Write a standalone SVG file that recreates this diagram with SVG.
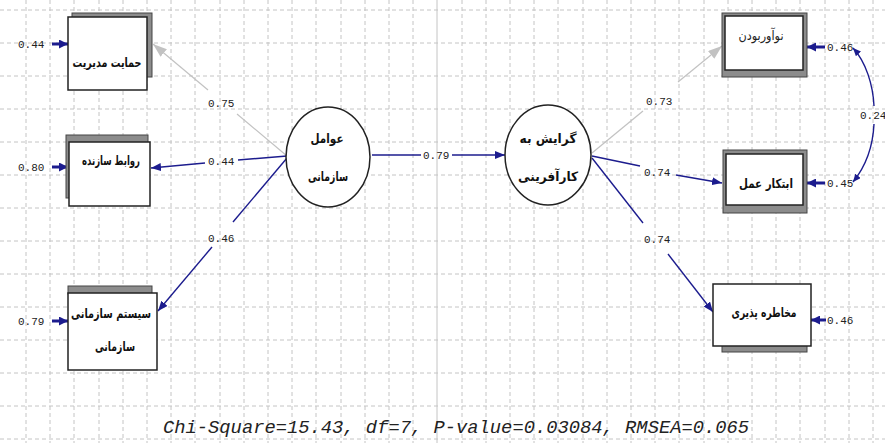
<svg xmlns="http://www.w3.org/2000/svg" width="885" height="443" viewBox="0 0 885 443">
<style>
.grid{stroke:#c4c4c4;stroke-width:1;stroke-dasharray:4 3;fill:none}
.gsolid{stroke:#c4c4c4;stroke-width:1;fill:none}
.blue{stroke:#1c1c8e;stroke-width:1.4;fill:none}
.gray{stroke:#c2c2c2;stroke-width:1.2;fill:none}
.err{stroke:#1c1c8e;stroke-width:3;fill:none}
.box{fill:#fff;stroke:#222;stroke-width:1.5}
.shadow{fill:#8c8c8c;stroke:#444;stroke-width:1}
.ell{fill:#fff;stroke:#222;stroke-width:1.5}
.fa{font-family:"DejaVu Sans",sans-serif;font-size:13px;font-weight:bold;fill:#111;text-anchor:middle}
.fr{font-family:"DejaVu Sans",sans-serif;font-size:13px;fill:#222;text-anchor:middle}
.num{font-family:"Liberation Mono",monospace;font-size:11px;fill:#222}
.stat{font-family:"Liberation Mono",monospace;font-size:18.8px;font-style:italic;fill:#222}
</style>
<defs>
<marker id="ab" markerWidth="10" markerHeight="8" refX="10" refY="4" orient="auto" markerUnits="userSpaceOnUse"><path d="M0,0 L10,4 L0,8 Z" fill="#1c1c8e"/></marker>
<marker id="ag" markerWidth="14" markerHeight="10" refX="14" refY="5" orient="auto" markerUnits="userSpaceOnUse"><path d="M0,0 L14,5 L0,10 Z" fill="#c2c2c2"/></marker>
<marker id="ae" markerWidth="9" markerHeight="9" refX="9" refY="4.5" orient="auto" markerUnits="userSpaceOnUse"><path d="M0,0 L9,4.5 L0,9 Z" fill="#1c1c8e"/></marker>
<marker id="as" markerWidth="8" markerHeight="7" refX="8" refY="3.5" orient="auto" markerUnits="userSpaceOnUse"><path d="M0,0 L8,3.5 L0,7 Z" fill="#1c1c8e"/></marker>
<marker id="ass" markerWidth="8" markerHeight="7" refX="0" refY="3.5" orient="auto" markerUnits="userSpaceOnUse"><path d="M8,0 L0,3.5 L8,7 Z" fill="#1c1c8e"/></marker>
</defs>
<rect width="885" height="443" fill="#fff"/>
<g id="grid">
<path class="grid" d="M26,0V443M50,0V443M74,0V443M99,0V443M123,0V443M147,0V443M171,0V443M195,0V443M220,0V443M244,0V443M268,0V443M292,0V443M316,0V443M341,0V443M365,0V443M389,0V443M413,0V443M462,0V443M486,0V443M510,0V443M534,0V443M558,0V443M583,0V443M607,0V443M631,0V443M655,0V443M679,0V443M704,0V443M728,0V443M752,0V443M776,0V443M800,0V443M825,0V443M849,0V443M873,0V443"/>
<path class="grid" d="M0,10H885M0,43H885M0,76H885M0,109H885M0,142H885M0,175H885M0,208H885M0,241H885M0,274H885M0,307H885M0,340H885M0,373H885M0,406H885M0,439H885"/>
<path class="gsolid" d="M437,0V443"/>
</g>
<g id="connectors">
<path class="gray" d="M287,156 L237,114"/>
<path class="gray" d="M208,90 L153,44" marker-end="url(#ag)"/>
<path class="blue" d="M287,156 L238,160"/>
<path class="blue" d="M205,163 L151,168" marker-end="url(#ab)"/>
<path class="blue" d="M287,158 L233,222"/>
<path class="blue" d="M212,247 L158,311" marker-end="url(#ab)"/>
<path class="blue" d="M372,155 L421,155"/>
<path class="blue" d="M452,155 L505,155" marker-end="url(#ab)"/>
<path class="gray" d="M592,153 L643,111"/>
<path class="gray" d="M678,82 L722,46" marker-end="url(#ag)"/>
<path class="blue" d="M592,156 L640,166"/>
<path class="blue" d="M676,175 L722,183" marker-end="url(#ab)"/>
<path class="blue" d="M592,158 L643,223"/>
<path class="blue" d="M668,254 L713,312" marker-end="url(#ab)"/>
<path class="err" d="M52,44 H68" marker-end="url(#ae)"/>
<path class="err" d="M52,167 H68" marker-end="url(#ae)"/>
<path class="err" d="M52,321 H68" marker-end="url(#ae)"/>
<path class="err" d="M825,47 H807" marker-end="url(#ae)"/>
<path class="err" d="M825,183 H807" marker-end="url(#ae)"/>
<path class="err" d="M826,320 H811" marker-end="url(#ae)"/>
<path class="blue" d="M853,48 C866,62 873,85 874,106" marker-start="url(#ass)"/>
<path class="blue" d="M874,124 C873,145 866,166 853,182" marker-end="url(#as)"/>
<text class="num" x="208" y="107">0.75</text>
<text class="num" x="208" y="165">0.44</text>
<text class="num" x="208" y="242">0.46</text>
<text class="num" x="423" y="159">0.79</text>
<text class="num" x="646" y="105">0.73</text>
<text class="num" x="644" y="176">0.74</text>
<text class="num" x="644" y="243">0.74</text>
<text class="num" x="18" y="48">0.44</text>
<text class="num" x="18" y="171">0.80</text>
<text class="num" x="18" y="325">0.79</text>
<text class="num" x="827" y="51">0.46</text>
<text class="num" x="827" y="187">0.45</text>
<text class="num" x="827" y="324">0.46</text>
<text class="num" x="860" y="119">0.24</text>
</g>
<g id="n-hemayat">
<rect class="shadow" x="72" y="13" width="80" height="64"/>
<rect class="box" x="68" y="17" width="79" height="73"/>
<text class="fa" x="107" y="67" textLength="69" lengthAdjust="spacingAndGlyphs">حمایت مدیریت</text>
</g>
<g id="n-ravabet">
<rect class="shadow" x="66" y="135" width="82" height="63"/>
<rect class="box" x="69" y="142" width="81" height="64"/>
<text class="fa" x="111" y="165" textLength="58" lengthAdjust="spacingAndGlyphs">روابط سازنده</text>
</g>
<g id="n-system">
<rect class="shadow" x="68" y="286" width="84" height="8"/>
<rect class="box" x="68" y="293" width="89" height="77"/>
<text class="fa" x="111" y="318" textLength="80" lengthAdjust="spacingAndGlyphs">سیستم سازمانی</text>
<text class="fa" x="115" y="351" textLength="40" lengthAdjust="spacingAndGlyphs">سازمانی</text>
</g>
<g id="n-avamel">
<ellipse class="ell" cx="328" cy="157" rx="42" ry="50"/>
<text class="fa" x="327" y="143" textLength="33" lengthAdjust="spacingAndGlyphs">عوامل</text>
<text class="fa" x="328" y="181" textLength="40" lengthAdjust="spacingAndGlyphs">سازمانی</text>
</g>
<g id="n-gerayesh">
<ellipse class="ell" cx="548" cy="155" rx="43" ry="50"/>
<text class="fa" x="548" y="143" textLength="57" lengthAdjust="spacingAndGlyphs">گرایش به</text>
<text class="fa" x="548" y="181" textLength="60" lengthAdjust="spacingAndGlyphs">کارآفرینی</text>
</g>
<g id="n-noavar">
<rect class="shadow" x="722" y="13" width="85" height="64"/>
<rect class="box" x="725" y="16" width="78" height="54"/>
<text class="fr" x="761" y="40" textLength="45" lengthAdjust="spacingAndGlyphs">نوآوربودن</text>
</g>
<g id="n-ebtekar">
<rect class="shadow" x="723" y="150" width="84" height="63"/>
<rect class="box" x="726" y="154" width="77" height="51"/>
<text class="fa" x="766" y="188" textLength="54" lengthAdjust="spacingAndGlyphs">ابتکار عمل</text>
</g>
<g id="n-mokhatere">
<rect class="shadow" x="722" y="340" width="85" height="12"/>
<rect class="box" x="713" y="284" width="98" height="62"/>
<text class="fa" x="764" y="317" textLength="65" lengthAdjust="spacingAndGlyphs">مخاطره پذیری</text>
</g>
<text class="stat" x="163" y="433">Chi-Square=15.43, df=7, P-value=0.03084, RMSEA=0.065</text>
</svg>
